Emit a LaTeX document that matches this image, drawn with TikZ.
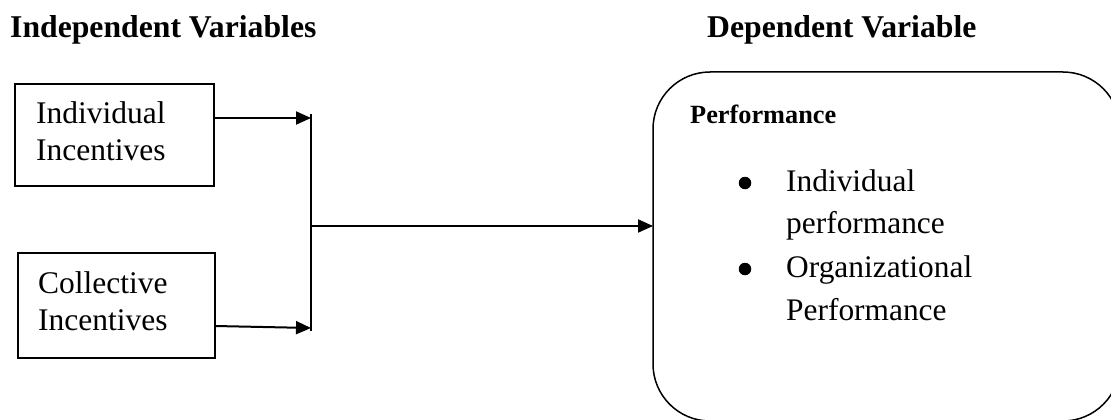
\documentclass[tikz,border=0pt]{standalone}
\usepackage{fontspec}
\setmainfont{Liberation Serif}
\usetikzlibrary{arrows.meta}
\begin{document}
\begin{tikzpicture}[x=1pt,y=-1pt,
  box/.style={draw,line width=1.4pt,minimum width=#1,inner sep=0},
  txt/.style={anchor=base west,inner sep=0,font=\fontsize{31.5}{37}\selectfont},
  head/.style={anchor=base west,inner sep=0,font=\fontsize{31.7}{37}\selectfont\bfseries},
  btxt/.style={anchor=base west,inner sep=0,font=\fontsize{31.4}{42}\selectfont},
  bullet/.style={circle,fill,inner sep=0,minimum size=12.5pt},
  conn/.style={line width=2pt},
  arr/.style={conn,-{Triangle[length=15pt,width=13pt]}}]
\useasboundingbox (0,0) rectangle (1111,420);
% headers
\node[head] (h1) at (10,38) {Independent Variables};
\node[head] (h2) at (707,38) {Dependent Variable};
% left boxes
\node[box=199pt,minimum height=102pt] (b1) at (114.5,135) {};
\node[txt] (t1a) at (36,123) {Individual};
\node[txt] (t1b) at (36,160) {Incentives};
\node[box=197pt,minimum height=105pt] (b2) at (116.5,305.5) {};
\node[txt] (t2a) at (38,293) {Collective};
\node[txt] (t2b) at (38,330) {Incentives};
% junction
\coordinate (j1) at (311,118);
\coordinate (j2) at (311,328);
\coordinate (jm) at (311,226);
\coordinate (top) at (311,114);
\coordinate (bot) at (311,331);
\draw[line width=1.6pt] (top) -- (bot);
\coordinate (s1) at (213,118);
\coordinate (s2) at (215,326);
\draw[arr] (s1) -- (j1);
\draw[arr] (s2) -- (j2);
% dependent box
\draw[line width=1.5pt,rounded corners=57pt] (653,72) rectangle (1120,421);
\coordinate (dl) at (653,226);
\draw[arr] (jm) -- (dl);
\node[anchor=base west,inner sep=0,font=\fontsize{26.3}{30}\selectfont\bfseries] (perf) at (690,123) {Performance};
\node[bullet] (bu1) at (745,183) {};
\node[btxt] (i1a) at (786,191) {Individual};
\node[btxt] (i1b) at (786,233) {performance};
\node[bullet] (bu2) at (745,269) {};
\node[btxt] (i2a) at (786,277) {Organizational};
\node[btxt] (i2b) at (786,320) {Performance};
\end{tikzpicture}
\end{document}
